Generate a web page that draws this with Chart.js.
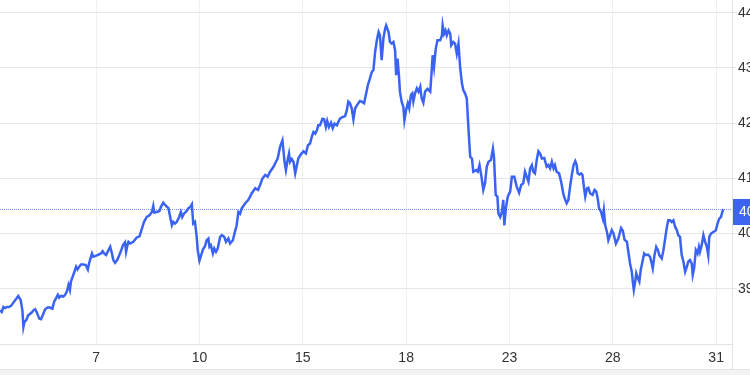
<!DOCTYPE html>
<html><head><meta charset="utf-8">
<script src="https://cdn.jsdelivr.net/npm/chart.js@4/dist/chart.umd.min.js"></script>
<style>
html,body{margin:0;padding:0;background:#fff;overflow:hidden;}
#wrap{width:750px;height:375px;overflow:hidden;position:relative;}
#wrap canvas{position:absolute;left:0;top:0;}
</style></head><body>
<div id="wrap"><canvas id="c" width="790" height="375" style="width:790px;height:375px"></canvas></div>
<script>
// session position (time index) of each traced point
const times = [0.1,0.6,1.1,1.6,2.1,2.7,3.3,5.4,6.1,6.6,6.9,7.2,7.7,8.3,9.3,9.8,10.3,10.8,11.5,12.0,12.5,13.2,13.9,14.6,15.3,15.8,16.4,16.9,17.3,17.8,18.5,19.0,19.5,20.0,20.4,20.7,21.2,21.6,22.2,22.6,23.1,23.6,24.3,25.0,25.6,26.0,26.8,27.2,27.7,28.7,29.4,29.9,30.3,30.9,31.6,32.1,32.6,33.0,33.5,34.2,34.8,35.3,35.8,36.4,36.7,37.1,37.4,37.9,38.8,39.8,40.6,41.3,41.9,42.7,43.5,44.2,44.6,44.9,45.6,46.4,46.8,47.5,48.3,49.0,49.5,50.0,50.4,50.9,51.4,52.1,52.6,53.0,53.5,54.3,54.8,55.3,55.8,56.0,56.2,56.7,57.2,57.5,58.0,58.5,59.0,59.6,60.1,60.6,60.9,61.3,61.9,62.3,62.8,63.3,64.0,64.5,65.2,65.7,66.4,66.9,67.7,68.3,68.8,69.3,69.8,70.3,71.3,72.2,72.7,73.2,74.2,75.0,75.6,76.3,77.1,77.8,78.5,79.5,80.2,80.7,81.4,82.1,82.7,83.1,83.5,84.0,84.3,84.8,85.3,85.8,86.3,86.7,87.4,88.2,88.9,89.5,90.1,90.6,91.1,91.6,92.1,92.5,93.0,93.7,94.2,94.7,95.1,95.6,96.2,96.7,97.2,97.9,98.3,98.8,99.5,100.3,100.8,101.2,101.7,102.2,102.7,103.2,103.9,104.6,105.1,105.8,106.3,106.9,107.5,108.0,108.5,109.0,109.5,110.0,110.4,110.9,111.4,111.9,112.2,112.9,113.3,113.8,114.3,114.8,115.1,115.5,115.9,116.2,116.7,117.2,117.5,118.0,118.5,118.9,119.4,119.8,120.1,120.6,121.1,121.6,122.1,122.5,123.0,123.5,124.2,125.0,125.4,125.7,126.1,126.6,127.1,127.9,128.4,128.6,129.0,129.4,129.8,130.3,130.8,131.1,131.7,132.2,132.7,133.2,133.7,134.2,134.6,135.1,135.6,136.1,136.6,137.1,137.5,138.3,138.8,139.3,139.8,140.4,140.9,141.4,141.9,142.6,143.2,143.5,144.0,144.5,144.8,145.3,145.8,146.2,146.5,147.0,147.5,148.2,148.7,149.4,150.1,150.8,151.4,152.0,152.5,153.0,153.5,154.0,154.5,154.9,155.4,155.9,156.4,156.9,157.4,158.1,158.8,159.3,159.8,160.3,160.8,161.2,161.7,162.4,163.0,163.7,164.2,164.6,165.1,165.6,166.1,166.6,167.1,167.5,167.8,168.3,168.8,169.2,169.6,170.0,170.5,170.9,171.4,172.1,172.7,173.2,173.6,174.0,174.6,175.1,175.4,175.8,176.3,176.7,177.2,177.7,178.2,178.9,179.6,180.4,180.9,181.4,182.1,182.5,183.0,183.5,183.8,184.1,184.5,184.8,185.3,185.7,186.1,186.6,187.1,187.6,188.2,188.8,189.3,189.6,190.1,190.6,191.1,191.5,192.2,192.7,193.2,193.7,194.1,194.6,195.1,195.6,196.1,196.6,197.0,197.5,198.0,198.5,199.0,199.5,199.9,200.4,200.9,201.2,201.6,202.1,202.6,203.0,203.3,203.8,204.3,204.8,205.3,205.7,206.0,206.5,207.2,207.9,208.4,208.9,209.4,209.9,210.1];
const prices = [38.61,38.58,38.67,38.65,38.67,38.67,38.69,38.87,38.80,38.61,38.31,38.40,38.43,38.52,38.57,38.61,38.63,38.57,38.46,38.45,38.52,38.63,38.66,38.66,38.64,38.76,38.83,38.89,38.84,38.87,38.86,38.89,38.95,39.07,38.98,39.13,39.22,39.29,39.40,39.35,39.40,39.44,39.44,39.43,39.35,39.47,39.64,39.58,39.59,39.62,39.64,39.68,39.64,39.61,39.70,39.76,39.64,39.52,39.47,39.53,39.62,39.70,39.79,39.84,39.67,39.79,39.85,39.82,39.85,39.93,39.95,40.09,40.21,40.30,40.33,40.39,40.50,40.38,40.39,40.41,40.48,40.56,40.50,40.46,40.30,40.15,40.21,40.18,40.21,40.30,40.39,40.30,40.36,40.41,40.46,40.48,40.53,40.35,40.18,40.21,39.94,39.70,39.51,39.61,39.71,39.77,39.88,39.91,39.76,39.79,39.64,39.73,39.67,39.73,39.94,39.97,39.94,39.85,39.91,39.82,39.88,40.03,40.15,40.39,40.36,40.46,40.55,40.61,40.67,40.73,40.82,40.79,40.88,41.00,41.06,41.03,41.12,41.21,41.30,41.36,41.57,41.69,41.30,41.15,41.30,41.45,41.30,41.35,41.30,41.09,41.24,41.36,41.43,41.49,41.45,41.60,41.63,41.75,41.84,41.81,41.87,41.96,41.96,42.08,42.07,41.93,42.04,41.93,42.01,41.91,41.99,41.96,42.02,42.08,42.11,42.13,42.24,42.39,42.36,42.27,42.07,42.27,42.34,42.40,42.39,42.36,42.51,42.69,42.81,42.92,42.96,43.29,43.50,43.65,43.59,43.14,43.53,43.71,43.77,43.65,43.47,43.44,43.47,43.32,42.87,43.17,42.87,42.57,42.39,42.29,42.05,42.24,42.36,42.27,42.51,42.54,42.39,42.54,42.63,42.57,42.66,42.45,42.37,42.57,42.62,42.57,42.93,43.23,43.02,43.35,43.50,43.50,43.59,43.77,43.62,43.68,43.59,43.68,43.62,43.41,43.47,43.44,43.26,43.44,42.99,42.72,42.60,42.54,42.45,41.90,41.39,41.36,41.12,41.15,41.12,41.24,41.06,40.79,40.91,41.21,41.30,41.33,41.54,41.39,40.70,40.67,40.36,40.30,40.39,40.61,40.15,40.48,40.67,40.76,41.03,41.03,40.85,40.74,40.88,40.91,41.12,41.03,40.94,41.18,41.24,41.12,41.09,41.33,41.49,41.45,41.36,41.37,41.21,41.24,41.18,41.30,41.18,41.24,41.12,41.09,40.94,40.70,40.61,40.55,40.61,40.85,41.06,41.24,41.31,41.24,41.09,41.07,41.09,41.06,40.85,40.67,40.82,40.83,40.73,40.70,40.79,40.76,40.64,40.46,40.39,40.27,40.42,40.15,40.03,39.88,39.97,40.06,40.00,39.82,39.91,40.10,40.05,39.89,39.85,39.67,39.46,39.31,39.13,38.98,39.13,39.28,39.19,39.13,39.34,39.49,39.64,39.61,39.62,39.58,39.46,39.37,39.61,39.76,39.70,39.61,39.55,39.70,39.91,40.12,40.24,40.24,40.21,40.24,40.12,40.06,39.97,39.94,39.61,39.49,39.31,39.40,39.49,39.52,39.46,39.25,39.37,39.70,39.64,39.76,39.67,39.79,39.97,39.85,39.76,39.61,39.94,40.00,40.03,40.06,40.18,40.27,40.30,40.42,40.44];
const xTickPositions = [28, 58, 88, 118, 148, 178, 208];
const xTickLabels = ['7', '10', '15', '18', '23', '28', '31'];
const yTickValues = [39, 40, 41, 42, 43, 44];

const LINE = '#3b63f3';
const FONT = {family: "'Liberation Sans', Arial, sans-serif", size: 14};
const lastPrice = prices[prices.length - 1];

const overlay = {
  id: 'overlay',
  beforeDatasetsDraw(chart) {
    const ctx = chart.ctx, a = chart.chartArea;
    const y = Math.round(chart.scales.y.getPixelForValue(lastPrice)) + 0.5;
    ctx.save();
    ctx.strokeStyle = '#7591f4';
    ctx.lineWidth = 1;
    ctx.setLineDash([1, 1]);
    ctx.beginPath(); ctx.moveTo(a.left, y); ctx.lineTo(a.right, y); ctx.stroke();
    ctx.restore();
  },
  afterDraw(chart) {
    const ctx = chart.ctx, a = chart.chartArea;
    const W = chart.width, H = chart.height;
    ctx.save();
    ctx.fillStyle = '#f3f3f3';
    ctx.fillRect(0, 370, W, H - 370);
    ctx.strokeStyle = '#e2e2e2';
    ctx.lineWidth = 1;
    ctx.beginPath(); ctx.moveTo(0, 369.5); ctx.lineTo(W, 369.5); ctx.stroke();
    ctx.beginPath(); ctx.moveTo(a.right + 0.5, 0); ctx.lineTo(a.right + 0.5, 370); ctx.stroke();
    const y = chart.scales.y.getPixelForValue(lastPrice);
    ctx.fillStyle = '#3d64f0';
    ctx.fillRect(a.right + 1, Math.round(y) - 10, 70, 26);
    ctx.fillStyle = '#ffffff';
    ctx.font = "14px 'Liberation Sans', Arial, sans-serif";
    ctx.textBaseline = 'middle';
    ctx.textAlign = 'left';
    ctx.fillText(lastPrice.toFixed(2), a.right + 7, Math.round(y) + 3);
    ctx.restore();
  }
};

new Chart(document.getElementById('c'), {
  type: 'line',
  data: {
    datasets: [{
      data: times.map((t, i) => ({x: t, y: prices[i]})),
      borderColor: LINE,
      borderWidth: 2.5,
      pointRadius: 0,
      tension: 0,
      fill: false
    }]
  },
  options: {
    responsive: false,
    animation: false,
    devicePixelRatio: 1,
    layout: {padding: 0},
    plugins: {legend: {display: false}, tooltip: {enabled: false}},
    scales: {
      x: {
        type: 'linear',
        position: 'bottom',
        min: 0.1,
        max: 212.6,
        afterBuildTicks(s) { s.ticks = xTickPositions.map(v => ({value: v})); },
        afterFit(s) { s.height = 31; s.paddingLeft = 0; s.paddingRight = 0; },
        grid: {color: '#edf1f6', drawTicks: false, lineWidth: 1},
        border: {display: true, color: '#e2e2e2'},
        ticks: {
          padding: 6, color: '#333', font: FONT, maxRotation: 0, autoSkip: false,
          callback(v) { const k = xTickPositions.indexOf(v); return k >= 0 ? xTickLabels[k] : ''; }
        }
      },
      y: {
        type: 'linear',
        position: 'right',
        min: 38,
        max: 44.23,
        afterBuildTicks(s) { s.ticks = yTickValues.map(v => ({value: v})); },
        afterFit(s) { s.width = 58; s.paddingTop = 0; s.paddingBottom = 0; },
        grid: {color: '#e6e6e6', drawTicks: true, tickLength: 5, lineWidth: 1},
        border: {display: false},
        ticks: {padding: 1, color: '#333', font: FONT, callback: v => String(v)}
      }
    }
  },
  plugins: [overlay]
});
</script>
</body></html>
